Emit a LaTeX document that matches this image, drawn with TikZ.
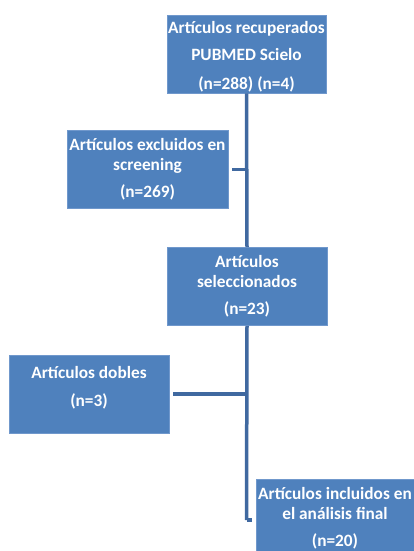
\documentclass[tikz,border=0pt]{standalone}
\usepackage{fontspec}
\setmainfont{Carlito}
\definecolor{boxfill}{HTML}{4F81BD}
\definecolor{boxedge}{HTML}{7098CC}
\definecolor{linecol}{HTML}{4069A0}
\begin{document}
\begin{tikzpicture}[x=1pt,y=-1pt,
  box/.style={draw=boxedge, line width=0.8pt, fill=boxfill, text=white,
    font=\fontsize{17.3}{20}\selectfont\bfseries, align=center, inner sep=0pt,
    minimum width=#1, minimum height=78pt},
  box/.default=160pt,
  conn/.style={draw=linecol, line width=3.5pt}]
\useasboundingbox (0,0) rectangle (414,551);
\node[box=159pt] (b1) at (246.5,54) {\rule{0pt}{18pt}Artículos recuperados\\[7pt] PUBMED Scielo\\[9pt] (n=288) (n=4)};
\node[box=161pt] (b2) at (147.5,169.5) {Artículos excluidos en\\ screening\\[7pt] (n=269)};
\node[box=160pt] (b3) at (247,286.5) {Artículos\\ seleccionados\\[7pt] (n=23)};
\node[box=160pt] (b4) at (89,394) {Artículos dobles\\[8pt] (n=3)\\[-4pt]};
\node[box=158pt] (b5) at (335,518) {Artículos incluidos en\\ el análisis final\\[7pt] (n=20)};
\coordinate (elb) at (b1.south |- 0,520);
\draw[conn] (b1.south) -- (b3.north);
\draw[conn] (b3.south) -- (elb);
\draw[conn, shorten >=4pt] (elb) -- (elb -| b5.west);
\draw[conn, shorten <=4pt] (b2.east) -- (b2.east -| b1.south);
\draw[conn, shorten <=4pt] (b4.east) -- (b4.east -| b1.south);
\end{tikzpicture}
\end{document}
